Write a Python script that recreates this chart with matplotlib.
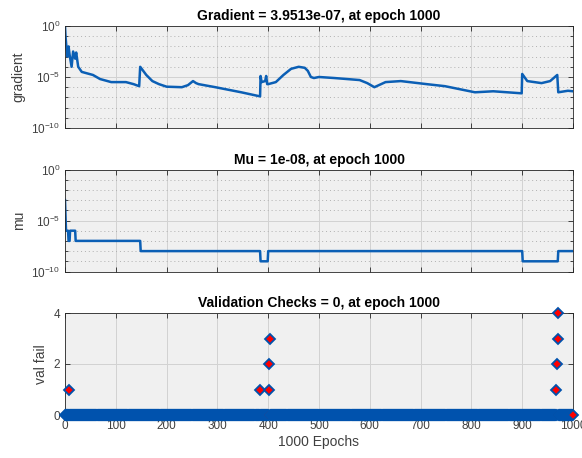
import numpy as np
import matplotlib
matplotlib.use("Agg")
import matplotlib.pyplot as plt
from matplotlib.ticker import NullFormatter

plt.rcParams['font.family'] = ['Liberation Sans', 'DejaVu Sans']
plt.rcParams['axes.unicode_minus'] = False

# gradient (log10)
grad_epoch = [0, 1, 3, 5, 7, 9, 13, 16, 20, 22, 26, 33, 55, 69, 91, 120, 135, 146,
              148, 160, 172, 185, 200, 230, 242, 252, 258, 263, 296, 347, 384,
              385, 387, 394, 396, 398, 400, 415, 430, 445, 460, 472, 478, 484, 490,
              500, 530, 580, 595, 609, 631, 661, 712, 748, 807, 843, 899,
              900, 910, 938, 955, 969, 971, 990, 1000]
grad_log = [0.0, -1.0, -2.2, -3.0, -2.0, -2.8, -4.0, -2.5, -3.2, -2.6, -4.0, -4.5, -4.8, -5.2, -5.5, -5.5, -5.7, -5.9,
            -4.0, -4.8, -5.4, -5.7, -5.95, -6.0, -5.8, -5.4, -5.6, -5.7, -6.0, -6.5, -6.9,
            -4.9, -5.5, -5.4, -4.9, -5.7, -5.7, -5.5, -4.8, -4.2, -4.0, -4.1, -4.4, -5.0, -5.1,
            -5.0, -5.1, -5.3, -5.6, -6.0, -5.5, -5.4, -5.7, -5.9, -6.5, -6.4, -6.6,
            -4.7, -5.4, -5.6, -5.4, -4.8, -6.5, -6.35, -6.4]

# mu (log10)
mu_epoch = [0, 2, 6, 7, 9, 10, 20, 21, 148, 149, 384, 385, 399, 400, 900, 901, 970, 971, 1000]
mu_log = [-3, -6, -6, -7, -7, -6, -6, -7, -7, -8, -8, -9, -9, -8, -8, -9, -9, -8, -8]

# validation failures (all other epochs are 0)
fail_epoch = [7, 384, 401, 402, 403, 967, 969, 970, 971]
fail_value = [1, 1, 1, 2, 3, 1, 2, 3, 4]

titles = ['Gradient = 3.9513e-07, at epoch 1000',
          'Mu = 1e-08, at epoch 1000',
          'Validation Checks = 0, at epoch 1000']
ylabels = ['gradient', 'mu', 'val fail']

line_col = '#0b5fb5'
bg = '#f0f0f0'
dark = '#262626'

fig = plt.figure(figsize=(5.82, 4.58), dpi=100)
W, H = 582, 458
left, right = 65, 573
tops = [26, 169.5, 313]
ph = 102
axes = [fig.add_axes([left / W, 1 - (t + ph) / H, (right - left) / W, ph / H]) for t in tops]


def style(ax, title, ylabel):
    ax.set_facecolor(bg)
    ax.set_xlim(0, 1000)
    ax.set_xticks(np.arange(0, 1001, 100))
    for s in ax.spines.values():
        s.set_color(dark)
        s.set_linewidth(0.6)
    ax.tick_params(which='both', direction='in', top=True, right=True,
                   colors=dark, labelcolor='#404040', labelsize=8.5, width=0.6)
    ax.tick_params(which='major', length=3.5)
    ax.tick_params(which='minor', length=2)
    ax.grid(True, which='major', color='#d2d2d2', linewidth=0.7)
    ax.set_axisbelow(True)
    ax.set_title(title, fontsize=10, fontweight='bold', pad=4)
    ax.set_ylabel(ylabel, fontsize=10, color='#404040')


# gradient
ax = axes[0]
style(ax, titles[0], ylabels[0])
ax.plot(grad_epoch, 10.0 ** np.array(grad_log), color=line_col, lw=1.8)
ax.set_yscale('log')
ax.set_ylim(1e-10, 1)
ax.set_yticks([1e-10, 1e-5, 1])
ax.set_yticks(10.0 ** np.arange(-9, 0), minor=True)
ax.yaxis.set_minor_formatter(NullFormatter())
ax.grid(True, which='minor', axis='y', color='#b0b0b0', linestyle=(0, (1, 3)), linewidth=0.7)
ax.tick_params(labelbottom=False)

# mu
ax = axes[1]
style(ax, titles[1], ylabels[1])
ax.plot(mu_epoch, 10.0 ** np.array(mu_log), color=line_col, lw=1.8)
ax.set_yscale('log')
ax.set_ylim(1e-10, 1)
ax.set_yticks([1e-10, 1e-5, 1])
ax.set_yticks(10.0 ** np.arange(-9, 0), minor=True)
ax.yaxis.set_minor_formatter(NullFormatter())
ax.grid(True, which='minor', axis='y', color='#b0b0b0', linestyle=(0, (1, 3)), linewidth=0.7)
ax.tick_params(labelbottom=False)

# validation checks
ax = axes[2]
style(ax, titles[2], ylabels[2])
epochs = np.arange(0, 1001)
val_fail = np.zeros(len(epochs))
val_fail[fail_epoch] = fail_value
ax.plot(epochs, val_fail, linestyle='none', marker='D', markersize=5.2,
        markerfacecolor='red', markeredgecolor='#0052ad', markeredgewidth=1.3,
        clip_on=False, zorder=3)
ax.set_ylim(0, 4)
ax.set_yticks([0, 2, 4])
ax.set_xlabel('1000 Epochs', fontsize=10, color='#404040', labelpad=2)

fig.savefig('out.png', dpi=100)
